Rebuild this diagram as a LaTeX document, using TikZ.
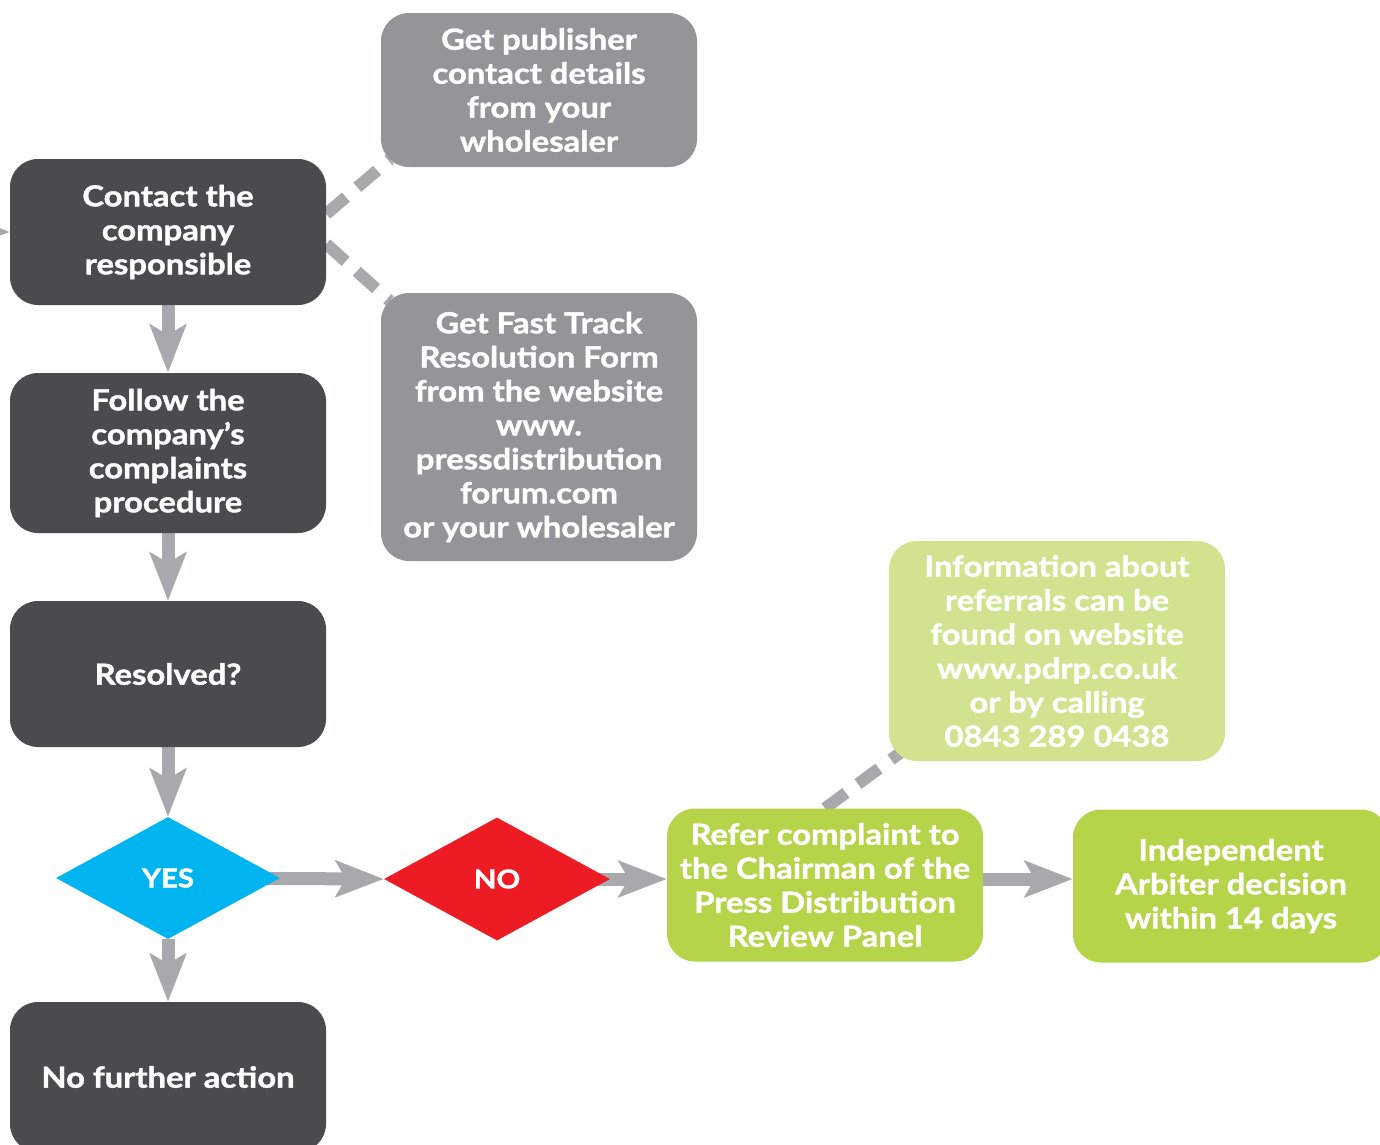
\documentclass[tikz,border=0pt]{standalone}
\usepackage{fontspec}
\setmainfont{Lato}[BoldFeatures={FakeStretch=1.13, FakeBold=1.3}]
\usetikzlibrary{arrows.meta,shapes.geometric,backgrounds,calc}
\definecolor{darkbox}{HTML}{4A4B4D}
\definecolor{boxgray}{HTML}{939598}
\definecolor{argray}{HTML}{A7A9AC}
\definecolor{mygreen}{HTML}{B5D44A}
\definecolor{lgreen}{HTML}{D1E38E}
\definecolor{yblue}{HTML}{00B5EF}
\definecolor{nred}{HTML}{ED1C24}
\begin{document}
\begin{tikzpicture}[x=1pt,y=-1pt,
  box/.style={rectangle, rounded corners=28pt, minimum width=316pt, inner sep=0pt,
    align=center, text=white, font=\bfseries\fontsize{29}{34}\selectfont},
  dia/.style={diamond, inner sep=0pt, text=white, font=\bfseries\fontsize{26}{28}\selectfont},
  arr/.style={draw=argray, line width=13pt, -{Stealth[length=48pt, width=36pt, inset=10pt]}},
  dashline/.style={draw=argray, line width=12pt, dash pattern=on 26pt off 15pt}]
\clip (0,0) rectangle (1380,1144);
\node[box, fill=darkbox, minimum height=146pt] (contact) at (168,232) {Contact the\\company\\responsible};
\node[box, fill=darkbox, minimum height=160pt] (follow) at (168,453) {Follow the\\company’s\\complaints\\procedure};
\node[box, fill=darkbox, minimum height=146pt] (resolved) at (168,674) {Resolved?};
\node[box, fill=darkbox, minimum height=150pt] (nofurther) at (168,1077) {No further action};
\node[box, fill=boxgray, minimum height=154pt] (publisher) at (539,90) {Get publisher\\contact details\\from your\\wholesaler};
\node[box, fill=boxgray, minimum height=268pt] (fasttrack) at (539,427) {Get Fast Track\\Resolution Form\\from the website\\www.\\pressdistribution\\forum.com\\or your wholesaler};
\node[box, fill=lgreen, minimum width=336pt, minimum height=220pt] (info) at (1057,651) {Information about\\referrals can be\\found on website\\www.pdrp.co.uk\\or by calling\\0843 289 0438};
\node[box, fill=mygreen, minimum height=153pt] (refer) at (825,885) {Refer complaint to\\the Chairman of the\\Press Distribution\\Review Panel};
\node[box, fill=mygreen, minimum height=153pt] (indep) at (1231,886) {Independent\\Arbiter decision\\within 14 days};
\node[dia, fill=yblue, minimum width=224pt, minimum height=122pt] (yes) at (168,878) {YES};
\node[dia, fill=nred, minimum width=226pt, minimum height=123pt] (no) at (497,879) {NO};
\coordinate (lin) at (-80,231);
\begin{scope}[on background layer]
  \draw[arr] (contact.south) -- (follow.north);
  \draw[arr] (follow.south) -- (resolved.north);
  \draw[arr] (resolved.south) -- (yes.north);
  \draw[arr] (yes.south) -- (nofurther.north);
  \draw[arr] (yes.center) -- (no.west);
  \draw[arr] (no.center) -- (no.center -| refer.west);
  \draw[arr] (no.center -| refer.east) -- (no.center -| indep.west);
  \draw[arr] (lin) -- (contact.west);
  \draw[dashline, shorten >=-12pt] ($(contact.east)+(0,-18)$) -- (publisher.south west);
  \draw[dashline, shorten >=-12pt] ($(contact.east)+(0,12)$) -- (fasttrack.north west);
  \draw[dashline, shorten >=-14pt] (refer.north) -- (info.south west);
\end{scope}
\end{tikzpicture}
\end{document}
